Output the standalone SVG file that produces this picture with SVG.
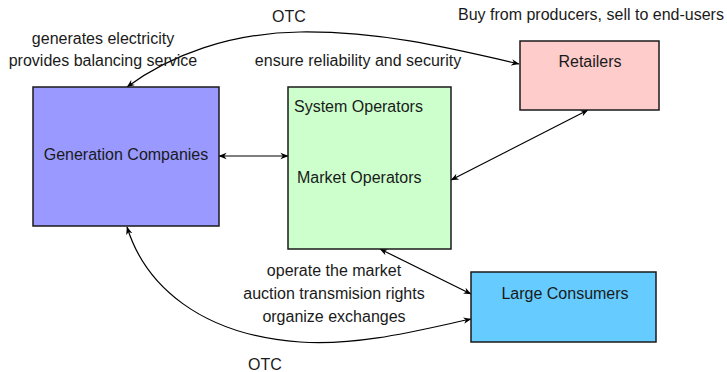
<svg xmlns="http://www.w3.org/2000/svg" width="727" height="372" viewBox="0 0 727 372">
  <defs>
    <marker id="head" viewBox="0 0 10 10" refX="9.5" refY="5" markerWidth="8" markerHeight="8" markerUnits="userSpaceOnUse" orient="auto-start-reverse">
      <path d="M0,1 L10,5 L0,9 L3,5 Z" fill="#000"/>
    </marker>
    <style>
      .box { stroke: #1a1a1a; stroke-width: 1.5; }
      .t { font-family: "Liberation Sans", Arial, sans-serif; font-size: 16px; fill: #1a1a1a; }
      .mid { text-anchor: middle; }
      .link { fill: none; stroke: #000; stroke-width: 1.2; marker-start: url(#head); marker-end: url(#head); }
    </style>
  </defs>
  <rect width="727" height="372" fill="#fff"/>

  <g id="connectors">
    <!-- OTC: generators to retailers -->
    <path class="link" d="M127,87 C170,55 230,33 300,32 C380,31 450,48 519,64"/>
    <!-- generators to operators -->
    <path class="link" d="M219,156 L288,156"/>
    <!-- retailers to operators -->
    <path class="link" d="M588,110 L451,180"/>
    <!-- operators to large consumers -->
    <path class="link" d="M380,249 L471,294"/>
    <!-- OTC: generators to large consumers -->
    <path class="link" d="M127,227 C145,285 200,335 300,342 C360,346 420,330 471,319"/>
  </g>

  <g id="labels">
    <text class="t mid" x="289" y="22">OTC</text>
    <text class="t" x="458" y="20">Buy from producers, sell to end-users</text>
    <text class="t mid" x="103" y="44">generates electricity</text>
    <text class="t mid" x="103" y="66">provides balancing service</text>
    <text class="t mid" x="358" y="66">ensure reliability and security</text>
    <text class="t mid" x="334" y="276">operate the market</text>
    <text class="t mid" x="334" y="299">auction transmision rights</text>
    <text class="t mid" x="334" y="322">organize exchanges</text>
    <text class="t mid" x="265" y="370">OTC</text>
  </g>

  <g id="generation-companies">
    <rect class="box" x="33" y="87" width="186" height="139" fill="#9999ff"/>
    <text class="t mid" x="126" y="160">Generation Companies</text>
  </g>

  <g id="operators">
    <rect class="box" x="288" y="87" width="163" height="162" fill="#ccffcc"/>
    <text class="t" x="294" y="112">System Operators</text>
    <text class="t" x="297" y="183">Market Operators</text>
  </g>

  <g id="retailers">
    <rect class="box" x="520" y="41" width="139" height="69" fill="#ffcccc"/>
    <text class="t mid" x="590" y="67">Retailers</text>
  </g>

  <g id="large-consumers">
    <rect class="box" x="471" y="272" width="185" height="70" fill="#66ccff"/>
    <text class="t mid" x="565" y="299">Large Consumers</text>
  </g>
</svg>
